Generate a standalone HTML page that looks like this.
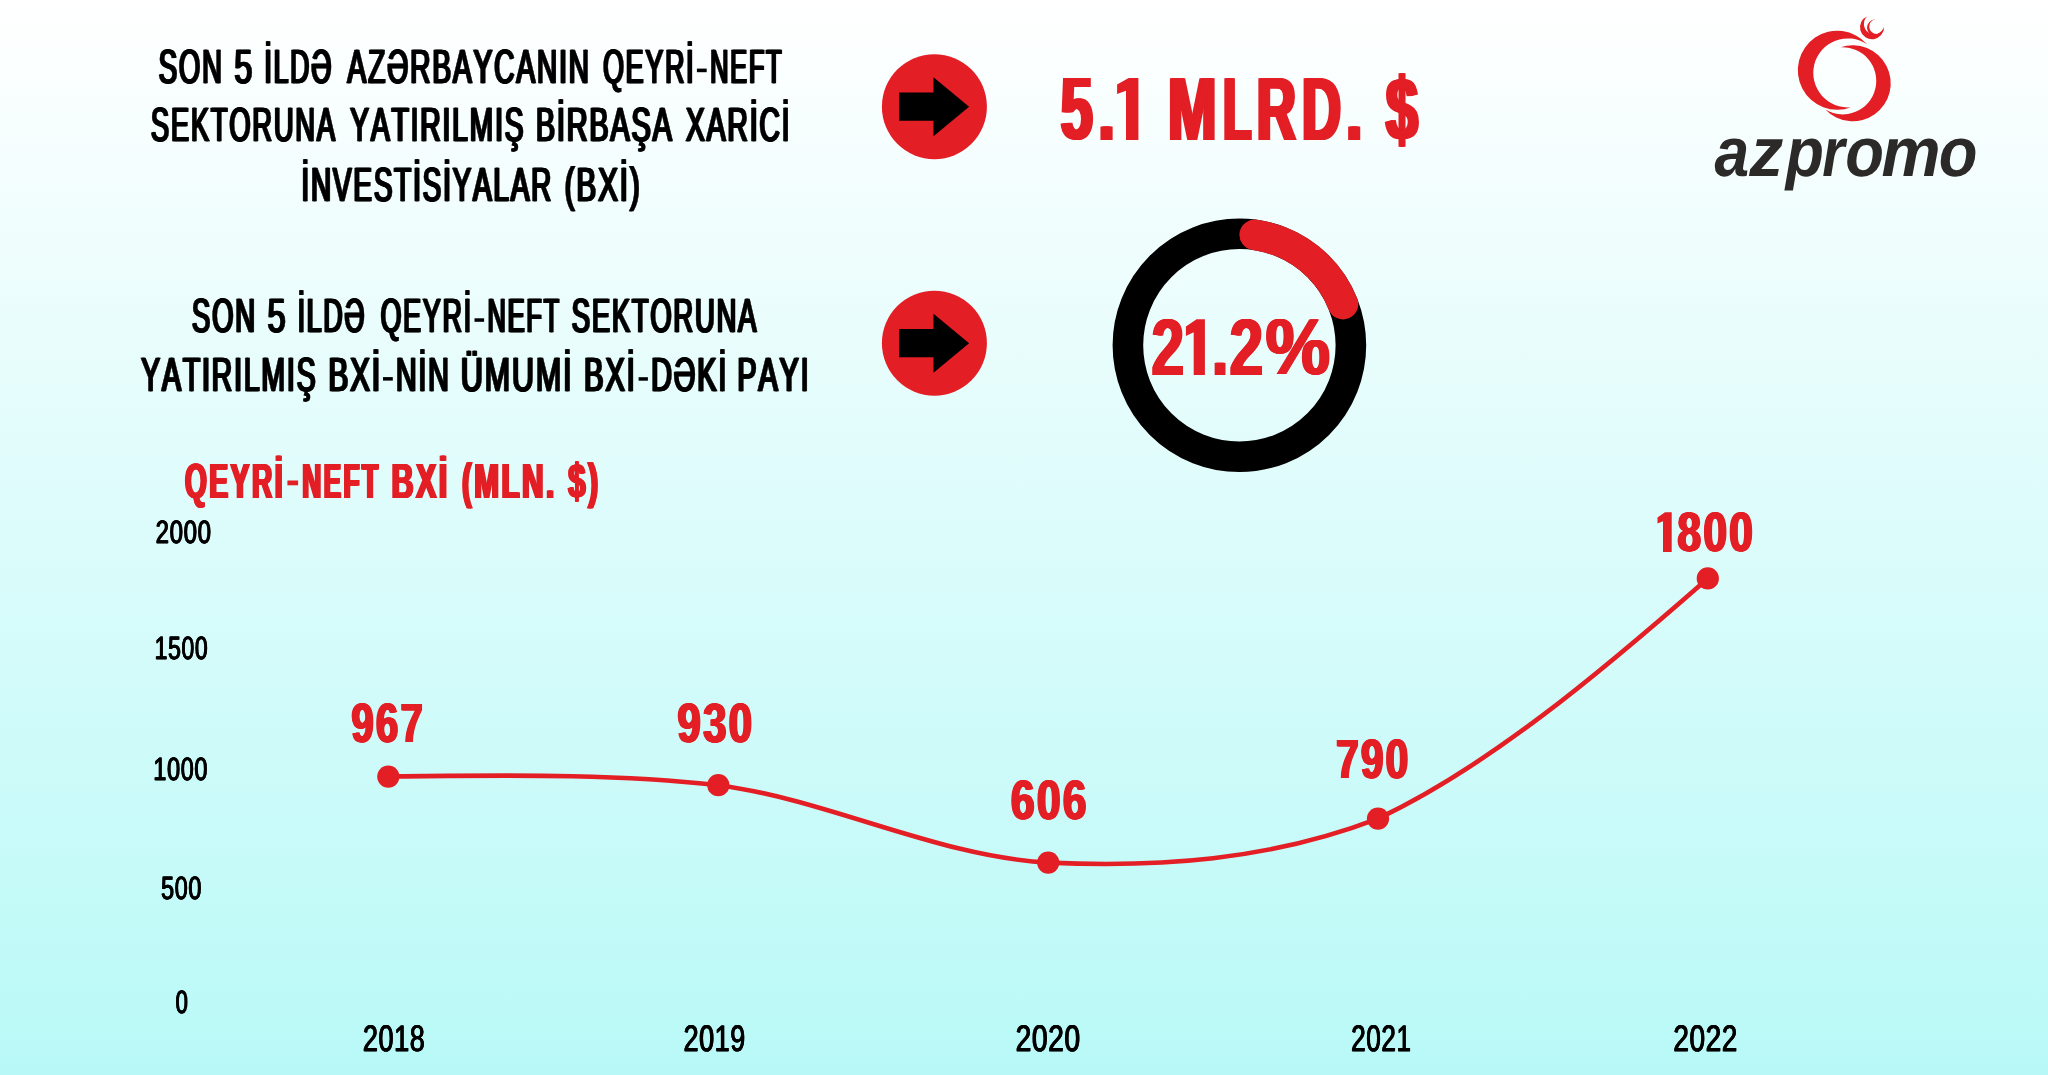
<!DOCTYPE html>
<html><head><meta charset="utf-8"><title>AZPROMO - Qeyri-neft BXİ</title>
<style>
html,body{margin:0;padding:0;background:#fff;}
body{width:2048px;height:1075px;overflow:hidden;}
svg{display:block;will-change:transform;font-family:"Liberation Sans",sans-serif;font-kerning:none;}
text{white-space:pre;text-rendering:geometricPrecision;}
</style></head><body>
<svg width="2048" height="1075" viewBox="0 0 2048 1075">
<defs><linearGradient id="bg" x1="0" y1="0" x2="0" y2="1"><stop offset="0" stop-color="#ffffff"/><stop offset="1" stop-color="#b8f9f7"/></linearGradient></defs>
<rect width="2048" height="1075" fill="url(#bg)"/>
<circle cx="934.4" cy="106.7" r="52.5" fill="#e31e25"/><polygon points="899.1,92.6 933.5,92.6 933.5,77.2 969.1,106.7 933.5,136.2 933.5,120.8 899.1,120.8" fill="#000"/><circle cx="934.4" cy="343.2" r="52.5" fill="#e31e25"/><polygon points="899.1,329.1 933.5,329.1 933.5,313.7 969.1,343.2 933.5,372.7 933.5,357.3 899.1,357.3" fill="#000"/>
<circle cx="1239.4" cy="345.3" r="111.5" fill="none" stroke="#000" stroke-width="30.6"/><path d="M1254.73 234.86 A111.5 111.5 0 0 1 1343.00 304.07" fill="none" stroke="#e31e25" stroke-width="30.6" stroke-linecap="round"/>
<path d="M388.3 776.4 C498.3 775.6 608.3 772.9 718.3 785.2 C828.3 799.5 938.2 857.0 1048.2 862.6 C1158.1 867.5 1268.1 860.7 1378.0 818.6 C1487.9 766.7 1597.9 674.7 1707.8 578.4" fill="none" stroke="#e31e25" stroke-width="4.6" stroke-linecap="round"/>
<circle cx="388.3" cy="776.6" r="11.1" fill="#e31e25"/><circle cx="718.3" cy="785.2" r="11.1" fill="#e31e25"/><circle cx="1048.2" cy="862.6" r="11.1" fill="#e31e25"/><circle cx="1378.0" cy="818.6" r="11.1" fill="#e31e25"/><circle cx="1707.8" cy="578.4" r="11.1" fill="#e31e25"/>
<g fill="#e31e24"><path d="M1867.1 44.3 A39.5 39.5 0 1 0 1851.3 107.2 A34.5 34.5 0 1 1 1867.1 44.3 Z"/><path d="M1840.5 47.3 A38.0 38.0 0 1 1 1825.3 109.6 A33.6 33.6 0 1 0 1840.5 47.3 Z"/><path d="M1867.4 16.2 A12.0 12.0 0 1 0 1884.0 27.1 A10.3 10.3 0 1 1 1867.4 16.2 Z"/><path d="M1875.3 19.2 A8.5 8.5 0 1 0 1884.0 27.1 A7.4 7.4 0 1 1 1875.3 19.2 Z"/></g>
<text id="t1" transform="translate(158.75 82.95) scale(0.5750 1)" font-size="47.82"  fill="#000000" stroke="#000000" stroke-width="0.70" stroke-linejoin="miter" letter-spacing="3.130">SON</text>
<use href="#t1" x="-0.90"/><use href="#t1" x="0.90"/>
<text id="t2" transform="translate(234.34 82.95) scale(0.6760 1)" font-size="47.82"  fill="#000000" stroke="#000000" stroke-width="0.70" stroke-linejoin="miter">5</text>
<use href="#t2" x="-0.90"/><use href="#t2" x="0.90"/>
<text id="t3" transform="translate(264.33 82.95) scale(0.5580 1)" font-size="47.82"  fill="#000000" stroke="#000000" stroke-width="0.70" stroke-linejoin="miter" letter-spacing="3.226">İLDƏ</text>
<use href="#t3" x="-0.90"/><use href="#t3" x="0.90"/>
<text id="t4" transform="translate(347.45 82.95) scale(0.5899 1)" font-size="47.82"  fill="#000000" stroke="#000000" stroke-width="0.70" stroke-linejoin="miter" letter-spacing="3.052">AZƏRBAYCANIN</text>
<use href="#t4" x="-0.90"/><use href="#t4" x="0.90"/>
<text id="t5" transform="translate(603.03 82.95) scale(0.5608 1)" font-size="47.82"  fill="#000000" stroke="#000000" stroke-width="0.70" stroke-linejoin="miter" letter-spacing="3.210">QEYRİ</text>
<use href="#t5" x="-0.90"/><use href="#t5" x="0.90"/>
<text id="t6" transform="translate(710.11 82.95) scale(0.5302 1)" font-size="47.82"  fill="#000000" stroke="#000000" stroke-width="0.70" stroke-linejoin="miter" letter-spacing="3.395">NEFT</text>
<use href="#t6" x="-0.90"/><use href="#t6" x="0.90"/>
<text id="t7" transform="translate(150.96 141.35) scale(0.5702 1)" font-size="47.82"  fill="#000000" stroke="#000000" stroke-width="0.70" stroke-linejoin="miter" letter-spacing="3.157">SEKTORUNA</text>
<use href="#t7" x="-0.90"/><use href="#t7" x="0.90"/>
<text id="t8" transform="translate(350.19 141.35) scale(0.5916 1)" font-size="47.82"  fill="#000000" stroke="#000000" stroke-width="0.70" stroke-linejoin="miter" letter-spacing="3.042">YATIRILMIŞ</text>
<use href="#t8" x="-0.90"/><use href="#t8" x="0.90"/>
<text id="t9" transform="translate(535.84 141.35) scale(0.6040 1)" font-size="47.82"  fill="#000000" stroke="#000000" stroke-width="0.70" stroke-linejoin="miter" letter-spacing="2.980">BİRBAŞA</text>
<use href="#t9" x="-0.90"/><use href="#t9" x="0.90"/>
<text id="t10" transform="translate(685.97 141.35) scale(0.5936 1)" font-size="47.82"  fill="#000000" stroke="#000000" stroke-width="0.70" stroke-linejoin="miter" letter-spacing="3.032">XARİCİ</text>
<use href="#t10" x="-0.90"/><use href="#t10" x="0.90"/>
<text id="t11" transform="translate(301.43 200.65) scale(0.5839 1)" font-size="47.82"  fill="#000000" stroke="#000000" stroke-width="0.70" stroke-linejoin="miter" letter-spacing="3.083">İNVESTİSİYALAR</text>
<use href="#t11" x="-0.90"/><use href="#t11" x="0.90"/>
<text id="t12" transform="translate(564.67 200.65) scale(0.6230 1)" font-size="47.82"  fill="#000000" stroke="#000000" stroke-width="0.70" stroke-linejoin="miter" letter-spacing="2.889">(BXİ)</text>
<use href="#t12" x="-0.90"/><use href="#t12" x="0.90"/>
<text id="t13" transform="translate(191.95 332.05) scale(0.5750 1)" font-size="47.82"  fill="#000000" stroke="#000000" stroke-width="0.70" stroke-linejoin="miter" letter-spacing="3.130">SON</text>
<use href="#t13" x="-0.90"/><use href="#t13" x="0.90"/>
<text id="t14" transform="translate(267.54 332.05) scale(0.6760 1)" font-size="47.82"  fill="#000000" stroke="#000000" stroke-width="0.70" stroke-linejoin="miter">5</text>
<use href="#t14" x="-0.90"/><use href="#t14" x="0.90"/>
<text id="t15" transform="translate(297.53 332.05) scale(0.5580 1)" font-size="47.82"  fill="#000000" stroke="#000000" stroke-width="0.70" stroke-linejoin="miter" letter-spacing="3.226">İLDƏ</text>
<use href="#t15" x="-0.90"/><use href="#t15" x="0.90"/>
<text id="t16" transform="translate(380.53 332.05) scale(0.5608 1)" font-size="47.82"  fill="#000000" stroke="#000000" stroke-width="0.70" stroke-linejoin="miter" letter-spacing="3.210">QEYRİ</text>
<use href="#t16" x="-0.90"/><use href="#t16" x="0.90"/>
<text id="t17" transform="translate(487.71 332.05) scale(0.5285 1)" font-size="47.82"  fill="#000000" stroke="#000000" stroke-width="0.70" stroke-linejoin="miter" letter-spacing="3.406">NEFT</text>
<use href="#t17" x="-0.90"/><use href="#t17" x="0.90"/>
<text id="t18" transform="translate(571.76 332.05) scale(0.5719 1)" font-size="47.82"  fill="#000000" stroke="#000000" stroke-width="0.70" stroke-linejoin="miter" letter-spacing="3.147">SEKTORUNA</text>
<use href="#t18" x="-0.90"/><use href="#t18" x="0.90"/>
<text id="t19" transform="translate(141.18 391.15) scale(0.5958 1)" font-size="47.82"  fill="#000000" stroke="#000000" stroke-width="0.70" stroke-linejoin="miter" letter-spacing="3.021">YATIRILMIŞ</text>
<use href="#t19" x="-0.90"/><use href="#t19" x="0.90"/>
<text id="t20" transform="translate(328.48 391.15) scale(0.6221 1)" font-size="47.82"  fill="#000000" stroke="#000000" stroke-width="0.70" stroke-linejoin="miter" letter-spacing="2.893">BXİ</text>
<use href="#t20" x="-0.90"/><use href="#t20" x="0.90"/>
<text id="t21" transform="translate(395.85 391.15) scale(0.6008 1)" font-size="47.82"  fill="#000000" stroke="#000000" stroke-width="0.70" stroke-linejoin="miter" letter-spacing="2.996">NİN</text>
<use href="#t21" x="-0.90"/><use href="#t21" x="0.90"/>
<text id="t22" transform="translate(460.76 391.15) scale(0.6396 1)" font-size="47.82"  fill="#000000" stroke="#000000" stroke-width="0.70" stroke-linejoin="miter" letter-spacing="2.814">ÜMUMİ</text>
<use href="#t22" x="-0.90"/><use href="#t22" x="0.90"/>
<text id="t23" transform="translate(584.01 391.15) scale(0.6120 1)" font-size="47.82"  fill="#000000" stroke="#000000" stroke-width="0.70" stroke-linejoin="miter" letter-spacing="2.941">BXİ</text>
<use href="#t23" x="-0.90"/><use href="#t23" x="0.90"/>
<text id="t24" transform="translate(651.04 391.15) scale(0.6043 1)" font-size="47.82"  fill="#000000" stroke="#000000" stroke-width="0.70" stroke-linejoin="miter" letter-spacing="2.979">DƏKİ</text>
<use href="#t24" x="-0.90"/><use href="#t24" x="0.90"/>
<text id="t25" transform="translate(737.45 391.15) scale(0.6029 1)" font-size="47.82"  fill="#000000" stroke="#000000" stroke-width="0.70" stroke-linejoin="miter" letter-spacing="2.985">PAYI</text>
<use href="#t25" x="-0.90"/><use href="#t25" x="0.90"/>
<rect x="696.9" y="68.6" width="9.8" height="3.6" fill="#000000"/>
<rect x="474.5" y="318.3" width="9.6" height="3.5" fill="#000000"/>
<rect x="383.0" y="377.1" width="9.8" height="3.5" fill="#000000"/>
<rect x="638.6" y="377.2" width="9.3" height="3.5" fill="#000000"/>
<rect x="287.4" y="480.5" width="10.7" height="4.8" fill="#e31e25"/>
<text id="t26" transform="translate(1060.73 139.23) scale(0.6479 1)" font-size="88.71" font-weight="bold" fill="#e31e25">5</text>
<use href="#t26" x="-2.00"/><use href="#t26" x="-1.00"/><use href="#t26" x="1.00"/><use href="#t26" x="2.00"/>
<polygon fill="#e31e25" points="1138.4,78 1138.4,139.9 1126,139.9 1126,90.7 1117.1,94 1117.1,84.4 1128.7,78"/>
<text id="t27" transform="translate(1098.56 140.10) scale(0.6469 1)" font-size="89.83" font-weight="bold" fill="#e31e25">.</text>
<use href="#t27" x="-2.00"/><use href="#t27" x="-1.00"/><use href="#t27" x="1.00"/><use href="#t27" x="2.00"/>
<text id="t28" transform="translate(1167.91 140.10) scale(0.6480 1)" font-size="89.83" font-weight="bold" fill="#e31e25">M</text>
<use href="#t28" x="-2.00"/><use href="#t28" x="-1.00"/><use href="#t28" x="1.00"/><use href="#t28" x="2.00"/>
<text id="t29" transform="translate(1223.34 140.10) scale(0.5098 1)" font-size="89.83" font-weight="bold" fill="#e31e25">L</text>
<use href="#t29" x="-2.00"/><use href="#t29" x="-1.00"/><use href="#t29" x="1.00"/><use href="#t29" x="2.00"/>
<text id="t30" transform="translate(1256.77 140.10) scale(0.6033 1)" font-size="89.83" font-weight="bold" fill="#e31e25">R</text>
<use href="#t30" x="-2.00"/><use href="#t30" x="-1.00"/><use href="#t30" x="1.00"/><use href="#t30" x="2.00"/>
<text id="t31" transform="translate(1302.09 140.10) scale(0.6009 1)" font-size="89.83" font-weight="bold" fill="#e31e25">D</text>
<use href="#t31" x="-2.00"/><use href="#t31" x="-1.00"/><use href="#t31" x="1.00"/><use href="#t31" x="2.00"/>
<text id="t32" transform="translate(1346.30 140.10) scale(0.6390 1)" font-size="89.83" font-weight="bold" fill="#e31e25">.</text>
<use href="#t32" x="-2.00"/><use href="#t32" x="-1.00"/><use href="#t32" x="1.00"/><use href="#t32" x="2.00"/>
<text id="t33" transform="translate(1385.95 140.10) scale(0.6358 1)" font-size="89.83" font-weight="bold" fill="#e31e25">$</text>
<use href="#t33" x="-2.00"/><use href="#t33" x="-1.00"/><use href="#t33" x="1.00"/><use href="#t33" x="2.00"/>
<text id="t34" transform="translate(1151.47 375.00) scale(0.7303 1)" font-size="80.20" font-weight="bold" fill="#e31e25">2</text>
<use href="#t34" x="-1.30"/><use href="#t34" x="-0.65"/><use href="#t34" x="0.65"/><use href="#t34" x="1.30"/>
<text id="t35" transform="translate(1229.50 375.00) scale(0.7562 1)" font-size="80.20" font-weight="bold" fill="#e31e25">2</text>
<use href="#t35" x="-1.30"/><use href="#t35" x="-0.65"/><use href="#t35" x="0.65"/><use href="#t35" x="1.30"/>
<polygon fill="#e31e25" points="1204.9,319.3 1204.9,375 1193.7,375 1193.7,332.2 1185.9,336.1 1185.9,326.4 1196.6,319.3"/>
<text id="t36" transform="translate(1265.49 374.22) scale(0.9189 1)" font-size="79.10" font-weight="bold" fill="#e31e25">%</text>
<use href="#t36" x="-1.30"/><use href="#t36" x="-0.65"/><use href="#t36" x="0.65"/><use href="#t36" x="1.30"/>
<text id="t37" transform="translate(1212.10 375.00) scale(0.7052 1)" font-size="81.40" font-weight="bold" fill="#e31e25">.</text>
<use href="#t37" x="-1.30"/><use href="#t37" x="-0.65"/><use href="#t37" x="0.65"/><use href="#t37" x="1.30"/>
<text id="t38" transform="translate(184.84 497.60) scale(0.5733 1)" font-size="49.42" font-weight="bold" fill="#e31e25" letter-spacing="4.187">QEYRİ</text>
<use href="#t38" x="-1.20"/><use href="#t38" x="-0.60"/><use href="#t38" x="0.60"/><use href="#t38" x="1.20"/>
<text id="t39" transform="translate(302.24 497.60) scale(0.5320 1)" font-size="49.42" font-weight="bold" fill="#e31e25" letter-spacing="4.511">NEFT</text>
<use href="#t39" x="-1.20"/><use href="#t39" x="-0.60"/><use href="#t39" x="0.60"/><use href="#t39" x="1.20"/>
<text id="t40" transform="translate(391.56 497.60) scale(0.6177 1)" font-size="49.42" font-weight="bold" fill="#e31e25" letter-spacing="3.886">BXİ</text>
<use href="#t40" x="-1.20"/><use href="#t40" x="-0.60"/><use href="#t40" x="0.60"/><use href="#t40" x="1.20"/>
<text id="t41" transform="translate(461.92 497.60) scale(0.6029 1)" font-size="49.42" font-weight="bold" fill="#e31e25" letter-spacing="3.981">(MLN.</text>
<use href="#t41" x="-1.20"/><use href="#t41" x="-0.60"/><use href="#t41" x="0.60"/><use href="#t41" x="1.20"/>
<text id="t42" transform="translate(568.09 497.60) scale(0.6344 1)" font-size="49.42" font-weight="bold" fill="#e31e25" letter-spacing="3.783">$)</text>
<use href="#t42" x="-1.20"/><use href="#t42" x="-0.60"/><use href="#t42" x="0.60"/><use href="#t42" x="1.20"/>
<text id="t43" transform="translate(155.69 542.68) scale(0.7432 1)" font-size="32.20"  fill="#000000" stroke="#000000" stroke-width="0.40" stroke-linejoin="miter" letter-spacing="0.942">2000</text>
<use href="#t43" x="-0.35"/><use href="#t43" x="0.35"/>
<text id="t44" transform="translate(154.65 659.28) scale(0.7113 1)" font-size="32.20"  fill="#000000" stroke="#000000" stroke-width="0.40" stroke-linejoin="miter" letter-spacing="0.984">1500</text>
<use href="#t44" x="-0.35"/><use href="#t44" x="0.35"/>
<text id="t45" transform="translate(153.31 780.08) scale(0.7274 1)" font-size="32.20"  fill="#000000" stroke="#000000" stroke-width="0.40" stroke-linejoin="miter" letter-spacing="0.962">1000</text>
<use href="#t45" x="-0.35"/><use href="#t45" x="0.35"/>
<text id="t46" transform="translate(161.06 898.78) scale(0.7251 1)" font-size="32.20"  fill="#000000" stroke="#000000" stroke-width="0.40" stroke-linejoin="miter" letter-spacing="0.965">500</text>
<use href="#t46" x="-0.35"/><use href="#t46" x="0.35"/>
<text id="t47" transform="translate(175.53 1013.18) scale(0.6838 1)" font-size="32.20"  fill="#000000" stroke="#000000" stroke-width="0.40" stroke-linejoin="miter">0</text>
<use href="#t47" x="-0.35"/><use href="#t47" x="0.35"/>
<text id="t48" transform="translate(362.89 1051.44) scale(0.7321 1)" font-size="36.86"  fill="#000000" stroke="#000000" stroke-width="0.40" stroke-linejoin="miter" letter-spacing="0.820">2018</text>
<use href="#t48" x="-0.30"/><use href="#t48" x="0.30"/>
<text id="t49" transform="translate(683.60 1051.44) scale(0.7283 1)" font-size="36.86"  fill="#000000" stroke="#000000" stroke-width="0.40" stroke-linejoin="miter" letter-spacing="0.824">2019</text>
<use href="#t49" x="-0.30"/><use href="#t49" x="0.30"/>
<text id="t50" transform="translate(1015.64 1051.44) scale(0.7634 1)" font-size="36.86"  fill="#000000" stroke="#000000" stroke-width="0.40" stroke-linejoin="miter" letter-spacing="0.786">2020</text>
<use href="#t50" x="-0.30"/><use href="#t50" x="0.30"/>
<text id="t51" transform="translate(1351.13 1051.44) scale(0.7073 1)" font-size="36.86"  fill="#000000" stroke="#000000" stroke-width="0.40" stroke-linejoin="miter" letter-spacing="0.848">2021</text>
<use href="#t51" x="-0.30"/><use href="#t51" x="0.30"/>
<text id="t52" transform="translate(1673.35 1051.44) scale(0.7586 1)" font-size="36.86"  fill="#000000" stroke="#000000" stroke-width="0.40" stroke-linejoin="miter" letter-spacing="0.791">2022</text>
<use href="#t52" x="-0.30"/><use href="#t52" x="0.30"/>
<text id="t53" transform="translate(351.41 742.26) scale(0.7259 1)" font-size="55.37" font-weight="bold" fill="#e31e25" letter-spacing="3.031">967</text>
<use href="#t53" x="-1.10"/><use href="#t53" x="-0.55"/><use href="#t53" x="0.55"/><use href="#t53" x="1.10"/>
<text id="t54" transform="translate(677.44 742.36) scale(0.7609 1)" font-size="55.37" font-weight="bold" fill="#e31e25" letter-spacing="2.891">930</text>
<use href="#t54" x="-1.10"/><use href="#t54" x="-0.55"/><use href="#t54" x="0.55"/><use href="#t54" x="1.10"/>
<text id="t55" transform="translate(1010.83 819.36) scale(0.7719 1)" font-size="55.37" font-weight="bold" fill="#e31e25" letter-spacing="2.850">606</text>
<use href="#t55" x="-1.10"/><use href="#t55" x="-0.55"/><use href="#t55" x="0.55"/><use href="#t55" x="1.10"/>
<text id="t56" transform="translate(1336.05 778.06) scale(0.7341 1)" font-size="55.37" font-weight="bold" fill="#e31e25" letter-spacing="2.997">790</text>
<use href="#t56" x="-1.10"/><use href="#t56" x="-0.55"/><use href="#t56" x="0.55"/><use href="#t56" x="1.10"/>
<text id="t57" transform="translate(1677.35 551.46) scale(0.7708 1)" font-size="55.37" font-weight="bold" fill="#e31e25" letter-spacing="2.854">800</text>
<use href="#t57" x="-1.10"/><use href="#t57" x="-0.55"/><use href="#t57" x="0.55"/><use href="#t57" x="1.10"/>
<polygon fill="#e31e25" points="1671.7,512.3 1671.7,552.1 1663,552.1 1663,521.3 1657.5,523.5 1657.5,517.5 1665,512.3"/>
<text id="t58" transform="translate(1714.60 175.90) scale(0.8934 1)" font-size="69.70" font-weight="bold" font-style="italic" fill="#2b2a29">a</text>
<text id="t59" transform="translate(1749.23 175.90) scale(0.9766 1)" font-size="69.70" font-weight="bold" font-style="italic" fill="#2b2a29">z</text>
<text id="t60" transform="translate(1785.67 175.90) scale(0.8959 1)" font-size="69.70" font-weight="bold" font-style="italic" fill="#2b2a29">p</text>
<text id="t61" transform="translate(1822.21 175.90) scale(0.8283 1)" font-size="69.70" font-weight="bold" font-style="italic" fill="#2b2a29">r</text>
<text id="t62" transform="translate(1845.35 175.90) scale(0.9088 1)" font-size="69.70" font-weight="bold" font-style="italic" fill="#2b2a29">o</text>
<text id="t63" transform="translate(1881.56 175.90) scale(0.9536 1)" font-size="69.70" font-weight="bold" font-style="italic" fill="#2b2a29">m</text>
<text id="t64" transform="translate(1938.75 175.90) scale(0.9088 1)" font-size="69.70" font-weight="bold" font-style="italic" fill="#2b2a29">o</text>
</svg>
</body></html>
